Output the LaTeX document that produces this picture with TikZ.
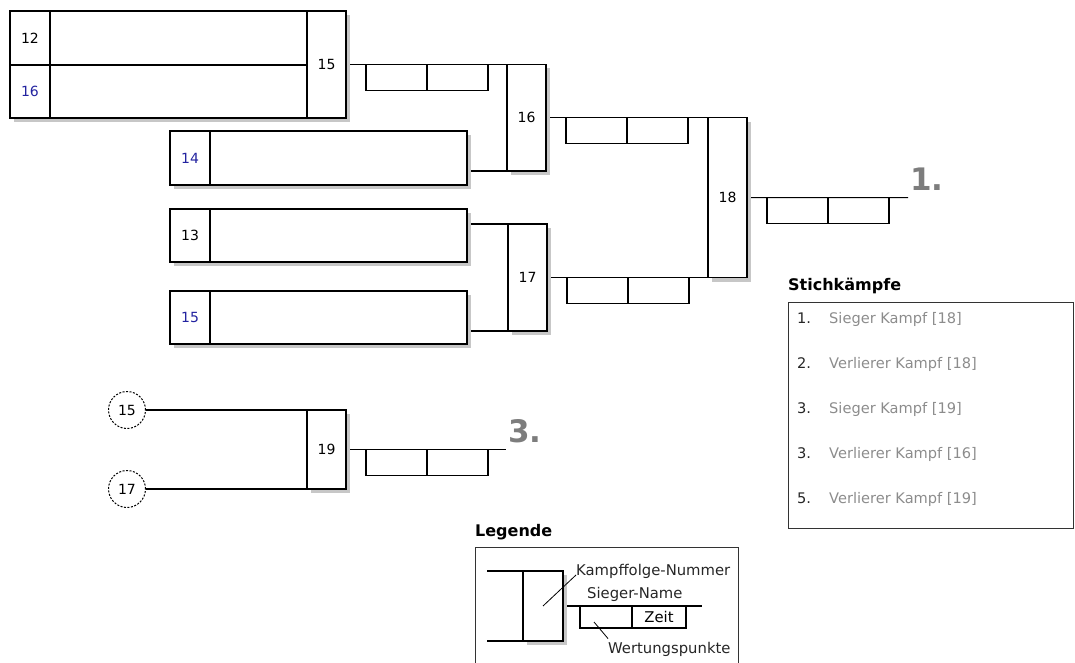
\documentclass[tikz,border=0pt]{standalone}
\usepackage{fontspec}
\setmainfont{DejaVu Sans}
\usetikzlibrary{positioning, shadows, backgrounds}
\definecolor{seedblue}{RGB}{35,35,160}
\definecolor{placegray}{RGB}{125,125,125}
\definecolor{entrygray}{RGB}{140,140,140}
\newcommand{\numfont}{\fontsize{14}{16}\selectfont}
\newcommand{\entryfont}{\fontsize{14.6}{17}\selectfont}
\newcommand{\legfont}{\fontsize{14.8}{17}\selectfont}
\tikzstyle{line} = [line width=1.2pt]
\tikzstyle{boxshadow} = [drop shadow={shadow xshift=4pt, shadow yshift=-4pt, fill=black!22, opacity=1}]
\tikzstyle{namecell} = [rectangle, draw=black, fill=white, line width=1.2pt, outer sep=0pt, minimum width=40pt, minimum height=54pt, inner sep=0pt, anchor=north west, font=\numfont, boxshadow]
\tikzstyle{bodycell} = [rectangle, draw=black, fill=white, line width=1.2pt, outer sep=0pt, minimum width=257pt, minimum height=54pt, inner sep=0pt, anchor=north west, boxshadow]
\tikzstyle{fight} = [rectangle, draw=black, fill=white, line width=1.2pt, outer sep=0pt, minimum width=39pt, inner sep=0pt, anchor=north west, font=\numfont, boxshadow]
\tikzstyle{score} = [rectangle, draw=black, line width=1.2pt, outer sep=0pt, minimum width=61pt, minimum height=26pt, inner sep=0pt, anchor=north west]
\tikzstyle{seed} = [circle, draw=black, dash pattern=on 2pt off 1.5pt, line width=1pt, outer sep=0pt, minimum size=37pt, inner sep=0pt, font=\numfont]
\tikzstyle{place} = [inner sep=0pt, anchor=base west, text=placegray, font=\fontsize{31}{31}\selectfont\bfseries]
\tikzstyle{title} = [inner sep=0pt, anchor=base west, font=\fontsize{16}{18}\selectfont\bfseries]
\tikzstyle{legtext} = [inner sep=0pt, anchor=base west, text=black!85, font=\legfont]

\begin{document}
\begin{tikzpicture}[x=1pt, y=-1pt]
    \useasboundingbox (0,0) rectangle (1075,663);
    % players
    \node (p12n) [namecell] at (10,11) {12};
    \node (p12b) [bodycell] at (p12n.north east) {};
    \node (p16n) [namecell, minimum height=53pt, text=seedblue] at (p12n.south west) {16};
    \node (p16b) [bodycell, minimum height=53pt] at (p16n.north east) {};
    \node (p14n) [namecell, text=seedblue] at (170,131) {14};
    \node (p14b) [bodycell] at (p14n.north east) {};
    \node (p13n) [namecell, minimum height=53pt] at (170,209) {13};
    \node (p13b) [bodycell, minimum height=53pt] at (p13n.north east) {};
    \node (p15n) [namecell, minimum height=53pt, text=seedblue] at (170,291) {15};
    \node (p15b) [bodycell, minimum height=53pt] at (p15n.north east) {};
    % fights
    \node (f15) [fight, minimum height=107pt] at (307,11) {15};
    \node (f16) [fight, minimum height=106.5pt] at (507,64.5) {16};
    \node (f17) [fight, minimum height=107pt] at (508,224) {17};
    \node (f18) [fight, minimum height=159.75pt] at (708,117.75) {18};
    \node (f19) [fight, minimum height=79pt] at (307,410) {19};
    \node (c15) [seed] at (127,410) {15};
    \node (c17) [seed] at (127,489) {17};
    \coordinate (end18) at (908,197.6);
    \coordinate (end19) at (506,449.5);
    % scores
    \foreach \f in {15,...,19} {
        \node (s\f a) [score] at ([xshift=20pt]f\f.east) {};
        \node (s\f b) [score] at (s\f a.north east) {};
    }
    \node (rank1) [place] at ([xshift=2pt, yshift=7pt]end18) {1.};
    \node (rank3) [place] at ([xshift=2pt, yshift=7pt]end19) {3.};
    % connectors
    \begin{scope}[on background layer]
        \draw [line] (f15.east) -- (f16.north west);
        \draw [line] (p14b.east |- f16.south west) -- (f16.south west);
        \draw [line] (p13b.east |- f17.north west) -- (f17.north west);
        \draw [line] (p15b.east |- f17.south west) -- (f17.south west);
        \draw [line] (f16.east) -- (f18.north west);
        \draw [line] (f17.east) -- (f18.south west);
        \draw [line] (f18.east) -- (end18);
        \draw [line] (c15.east |- f19.north west) -- (f19.north west);
        \draw [line] (c17.east |- f19.south west) -- (f19.south west);
        \draw [line] (f19.east) -- (end19);
    \end{scope}
    % stichkaempfe
    \node (sktitle) [title] at (788,290) {Stichkämpfe};
    \node (skbox) [rectangle, draw=black!80, line width=1.2pt, minimum width=285pt, minimum height=226pt, anchor=north west] at (788,302) {};
    \foreach \n/\t [count=\i from 0] in {1./Sieger Kampf [18], 2./Verlierer Kampf [18], 3./Sieger Kampf [19], 3./Verlierer Kampf [16], 5./Verlierer Kampf [19]} {
        \node (sknum\i) [inner sep=0pt, anchor=base west, font=\entryfont, text=black!85] at (797,323+45*\i) {\n};
        \node (sktxt\i) [inner sep=0pt, anchor=base west, font=\entryfont, text=entrygray] at (829,323+45*\i) {\t};
    }
    % legende
    \node (legtitle) [title] at (475,536) {Legende};
    \node (legbox) [rectangle, draw=black!80, line width=1.2pt, minimum width=263pt, minimum height=122pt, anchor=north west] at (475,547) {};
    \node (lf) [fight, minimum width=40pt, minimum height=70pt] at (523,571) {};
    \coordinate (lt) at (487,571);
    \coordinate (lb) at (487,641);
    \coordinate (lend) at (702,606);
    \node (lsa) [score, minimum width=52pt, minimum height=22pt] at ([xshift=17pt]lf.east) {};
    \node (lsb) [score, minimum width=54pt, minimum height=22pt, font=\legfont] at (lsa.north east) {Zeit};
    \node (lnum) [legtext] at (576,575) {Kampffolge-Nummer};
    \node (lname) [legtext] at (587,598) {Sieger-Name};
    \node (lwert) [legtext] at (608,653) {Wertungspunkte};
    \begin{scope}[on background layer]
        \draw [line] (lt) -- (lf.north west);
        \draw [line] (lb) -- (lf.south west);
        \draw [line] (lf.east) -- (lend);
    \end{scope}
    \draw [line width=0.8pt] (lf.center) -- (lnum.base west);
    \draw [line width=0.8pt] ([xshift=-12pt, yshift=-5pt]lsa.center) -- ([yshift=3pt]lwert.north west);
\end{tikzpicture}
\end{document}
